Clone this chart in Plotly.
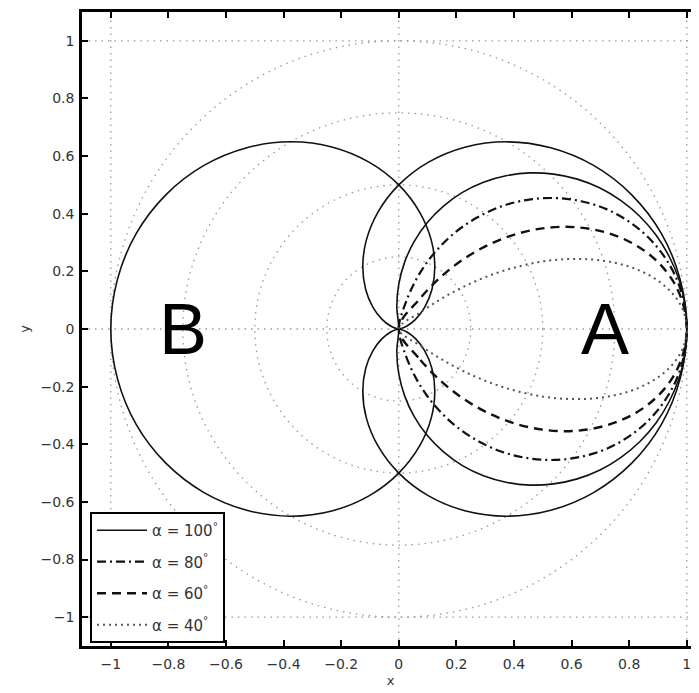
import numpy as np
import plotly.graph_objects as go

# ---- data (polar samples, upper half; curves are symmetric about y=0) ----
# alpha = 100 deg curve
theta_a100 = [0, 5, 10, 15, 20, 25, 30, 35, 40, 45, 50, 55, 60, 65, 70, 75, 80, 85, 90, 95, 100]
r_a100 = [1.0, 0.997, 0.988, 0.972, 0.951, 0.924, 0.891, 0.853, 0.809, 0.760, 0.707,
          0.649, 0.588, 0.523, 0.454, 0.383, 0.309, 0.233, 0.156, 0.079, 0.0]
# alpha = 80 deg curve
theta_a80 = [0, 5, 10, 15, 20, 25, 30, 35, 40, 45, 50, 55, 60, 65, 70, 75, 80]
r_a80 = [1.0, 0.995, 0.981, 0.957, 0.924, 0.882, 0.832, 0.773, 0.707, 0.634, 0.556,
         0.471, 0.383, 0.290, 0.195, 0.098, 0.0]
# alpha = 60 deg curve
theta_a60 = [0, 5, 10, 15, 20, 25, 30, 35, 40, 45, 50, 55, 60]
r_a60 = [1.0, 0.991, 0.966, 0.924, 0.866, 0.793, 0.707, 0.609, 0.5, 0.383, 0.259, 0.131, 0.0]
# alpha = 40 deg curve
theta_a40 = [0, 2.5, 5, 7.5, 10, 12.5, 15, 17.5, 20, 22.5, 25, 27.5, 30, 32.5, 35, 37.5, 40]
r_a40 = [1.0, 0.995, 0.981, 0.957, 0.924, 0.882, 0.832, 0.773, 0.707, 0.634, 0.556,
         0.471, 0.383, 0.290, 0.195, 0.098, 0.0]
# cardioid "A" (pointing to +x); "B" is the same shape pointing to -x
theta_card = [0, 10, 20, 30, 40, 50, 60, 70, 80, 90, 100, 110, 120, 130, 140, 150, 160, 170, 180]
r_card = [1.0, 0.992, 0.970, 0.933, 0.883, 0.821, 0.75, 0.671, 0.587, 0.5, 0.413,
          0.329, 0.25, 0.179, 0.117, 0.067, 0.030, 0.008, 0.0]

grid_radii = [0.25, 0.5, 0.75, 1.0]
grid_lines = [-1, 0, 1]

legend_names = ["α = 100<sup>°</sup>", "α = 80<sup>°</sup>", "α = 60<sup>°</sup>", "α = 40<sup>°</sup>"]
x_ticks = [-1, -0.8, -0.6, -0.4, -0.2, 0, 0.2, 0.4, 0.6, 0.8, 1]
y_ticks = [-1, -0.8, -0.6, -0.4, -0.2, 0, 0.2, 0.4, 0.6, 0.8, 1]


def closed(theta, r, flip=False):
    th = np.deg2rad(np.asarray(theta, float))
    rr = np.asarray(r, float)
    full_th = np.concatenate([-th[::-1], th[1:]])
    full_r = np.concatenate([rr[::-1], rr[1:]])
    x = full_r * np.cos(full_th)
    y = full_r * np.sin(full_th)
    if flip:
        x = -x
    return x, y


fig = go.Figure()

# cardioids A and B (solid)
for flip in (False, True):
    x, y = closed(theta_card, r_card, flip)
    fig.add_trace(go.Scatter(x=x, y=y, mode="lines", line=dict(color="#111", width=1.6, shape="spline"),
                             showlegend=False, hoverinfo="skip"))

styles = [
    dict(color="#111", width=1.6, dash="solid"),
    dict(color="#111", width=2.2, dash="9px,4px,2px,4px"),
    dict(color="#111", width=2.4, dash="9px,6px"),
    dict(color="#555", width=2.0, dash="2px,4px"),
]
series = [(theta_a100, r_a100), (theta_a80, r_a80), (theta_a60, r_a60), (theta_a40, r_a40)]
for i, ((th, r), st, name) in enumerate(zip(series, styles, legend_names)):
    x, y = closed(th, r)
    fig.add_trace(go.Scatter(x=x, y=y, mode="lines", name=name, legendgroup=f"g{i}",
                             line=dict(shape="spline", **st), hoverinfo="skip"))

grid_style = dict(color="#999", width=1.3, dash="1.5px,5px")
shapes = []
for rad in grid_radii:
    shapes.append(dict(type="circle", xref="x", yref="y", x0=-rad, x1=rad, y0=-rad, y1=rad,
                       line=grid_style, layer="below"))
for g in grid_lines:
    shapes.append(dict(type="line", xref="x", yref="paper", x0=g, x1=g, y0=0, y1=1,
                       line=grid_style, layer="below"))
    shapes.append(dict(type="line", xref="paper", yref="y", x0=0, x1=1, y0=g, y1=g,
                       line=grid_style, layer="below"))

annotations = [
    dict(x=-0.75, y=0, xref="x", yref="y", text="B", showarrow=False,
         font=dict(size=72, color="black", family="Liberation Sans, Arial, sans-serif")),
    dict(x=0.715, y=0, xref="x", yref="y", text="A", showarrow=False,
         font=dict(size=72, color="black", family="Liberation Sans, Arial, sans-serif")),
]

tickfont = dict(size=14, color="#333", family="DejaVu Sans, sans-serif")
fig.update_layout(
    width=691, height=685,
    margin=dict(l=74, r=0, t=4, b=47),
    paper_bgcolor="white", plot_bgcolor="white",
    shapes=shapes, annotations=annotations,
    xaxis=dict(range=[-1.1, 1.0424], tickvals=x_ticks, ticks="inside", ticklen=6, tickwidth=1.5,
               tickcolor="black", showline=True, linecolor="black", linewidth=2.5, mirror="ticks",
               showgrid=False, zeroline=False, tickfont=tickfont, ticklabelstandoff=3,
               title=dict(text="x", font=dict(size=13, color="#333", family="DejaVu Sans, sans-serif"),
                          standoff=6)),
    yaxis=dict(range=[-1.1, 1.1], tickvals=y_ticks, ticks="inside", ticklen=6, tickwidth=1.5,
               tickcolor="black", showline=True, linecolor="black", linewidth=2.5, mirror=False,
               showgrid=False, zeroline=False, tickfont=tickfont, ticklabelstandoff=2,
               title=dict(text="y", font=dict(size=13, color="#333", family="DejaVu Sans, sans-serif"),
                          standoff=8)),
    legend=dict(x=0.013, y=0.2114, xanchor="left", yanchor="top", bgcolor="white",
                bordercolor="black", borderwidth=2, tracegroupgap=9, itemwidth=50,
                font=dict(size=15, color="#333", family="DejaVu Sans, sans-serif"),
                traceorder="grouped"),
)

fig.write_html("out.html")
